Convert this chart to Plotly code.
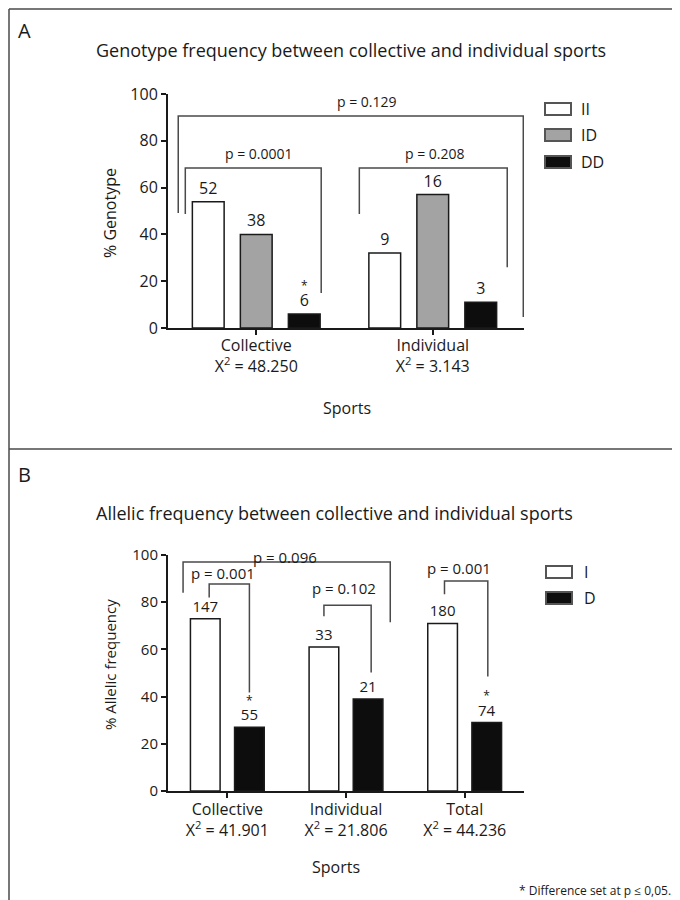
import plotly.graph_objects as go

# ---------------- DATA ----------------
# Panel A: genotype frequency (%), counts shown on bars
groups_A = ["Collective", "Individual"]
chi2_A = ["48.250", "3.143"]
pct_II = [54, 32]
pct_ID = [40, 57]
pct_DD = [6, 11]
n_II = [52, 9]
n_ID = [38, 16]
n_DD = [6, 3]
sig_DD = ["*", ""]

# Panel B: allelic frequency (%), counts shown on bars
groups_B = ["Collective", "Individual", "Total"]
chi2_B = ["41.901", "21.806", "44.236"]
pct_I = [73, 61, 71]
pct_D = [27, 39, 29]
n_I = [147, 33, 180]
n_D = [55, 21, 74]
sig_D = ["*", "", "*"]

yticks = [0, 20, 40, 60, 80, 100]

# significance brackets: (label, x_left, x_right, y_top, y_left_end, y_right_end, label_x, label_y)
brackets_A = [
    ("p = 0.129", -0.442, 1.513, 90.6, 49.1, 4.7, 0.629, 97.0),
    ("p = 0.0001", -0.402, 0.368, 68.4, 48.7, 15.0, 0.017, 74.4),
    ("p = 0.208", 0.584, 1.422, 68.4, 48.7, 26.0, 1.014, 74.4),
]
brackets_B = [
    ("p = 0.096", -0.373, 1.373, 97.0, 84.0, 71.5, 0.49, 99.0),
    ("p = 0.001", -0.153, 0.186, 87.7, 82.0, 41.7, -0.034, 92.4),
    ("p = 0.102", 0.814, 1.212, 78.7, 74.0, 50.2, 0.983, 86.0),
    ("p = 0.001", 1.83, 2.195, 89.0, 83.4, 48.5, 1.95, 94.5),
]

# ---------------- STYLE ----------------
FONT = "Open Sans"
INK = "#1a1a1a"
LINE = "#4a4a4a"
W, H = 680, 900
OFF = 8  # page body margin of the html page


def px(x):
    return (x - OFF) / W


def py(y):
    return 1 - (y - OFF) / H


def bar_text(counts, sig=None, size=16):
    out = []
    for i, c in enumerate(counts):
        star = (sig[i] + "<br>") if (sig and sig[i]) else ""
        out.append(f"{star}<span style='font-size:{size}px'>{c}</span>")
    return out


fig = go.Figure()

# ---- Panel A bars ----
wA = 0.18
shiftA = 0.272
xA = list(range(len(groups_A)))
for vals, counts, fill, shift, sig in [
    (pct_II, n_II, "#ffffff", -shiftA, None),
    (pct_ID, n_ID, "#a3a3a3", 0.0, None),
    (pct_DD, n_DD, "#0d0d0d", shiftA, sig_DD),
]:
    fig.add_trace(go.Bar(
        x=xA, y=vals, width=wA, offset=-wA / 2 + shift,
        marker=dict(color=fill, line=dict(color=INK, width=1.5)),
        text=bar_text(counts, sig, 16), textposition="outside",
        textfont=dict(family=FONT, size=12, color=INK),
        constraintext="none", cliponaxis=False,
        xaxis="x", yaxis="y", showlegend=False, hoverinfo="skip",
    ))

# ---- Panel B bars ----
wB = 0.25
shiftB = 0.186
xB = list(range(len(groups_B)))
for vals, counts, fill, shift, sig in [
    (pct_I, n_I, "#ffffff", -shiftB, None),
    (pct_D, n_D, "#0d0d0d", shiftB, sig_D),
]:
    fig.add_trace(go.Bar(
        x=xB, y=vals, width=wB, offset=-wB / 2 + shift,
        marker=dict(color=fill, line=dict(color=INK, width=1.5)),
        text=bar_text(counts, sig, 15), textposition="outside",
        textfont=dict(family=FONT, size=12, color=INK),
        constraintext="none", cliponaxis=False,
        xaxis="x2", yaxis="y2", showlegend=False, hoverinfo="skip",
    ))

shapes = []
annotations = []

# ---- brackets ----
for brs, xr, yr, fsize in [(brackets_A, "x", "y", 14), (brackets_B, "x2", "y2", 15)]:
    for lab, xl, xrr, yt, yl, yre, lx, ly in brs:
        shapes.append(dict(
            type="path", xref=xr, yref=yr,
            path=f"M {xl},{yl} L {xl},{yt} L {xrr},{yt} L {xrr},{yre}",
            line=dict(color=LINE, width=1.5),
        ))
        annotations.append(dict(
            text=lab, x=lx, y=ly, xref=xr, yref=yr, showarrow=False,
            xanchor="center", yanchor="middle",
            font=dict(family=FONT, size=fsize, color=INK),
        ))

# ---- panel frame ----
frame = [
    (9, 9, 690, 9),
    (9, 9, 9, 910),
    (9, 449, 690, 449),
]
for x0, y0, x1, y1 in frame:
    shapes.append(dict(type="line", xref="paper", yref="paper",
                       x0=px(x0), y0=py(y0), x1=px(x1), y1=py(y1),
                       line=dict(color=LINE, width=1.5)))

# ---- legends ----
legA = [("II", "#ffffff", 109), ("ID", "#a3a3a3", 135), ("DD", "#0d0d0d", 162)]
for lab, fill, yc in legA:
    shapes.append(dict(type="rect", xref="paper", yref="paper",
                       x0=px(545), x1=px(571), y0=py(yc - 6), y1=py(yc + 6),
                       fillcolor=fill, line=dict(color="#555555", width=2)))
    annotations.append(dict(text=lab, x=px(579), y=py(yc), xref="paper", yref="paper",
                            showarrow=False, xanchor="left", yanchor="middle",
                            font=dict(family=FONT, size=16, color=INK)))
legB = [("I", "#ffffff", 572), ("D", "#0d0d0d", 598)]
for lab, fill, yc in legB:
    shapes.append(dict(type="rect", xref="paper", yref="paper",
                       x0=px(546), x1=px(572), y0=py(yc - 6), y1=py(yc + 6),
                       fillcolor=fill, line=dict(color="#555555", width=2)))
    annotations.append(dict(text=lab, x=px(582), y=py(yc), xref="paper", yref="paper",
                            showarrow=False, xanchor="left", yanchor="middle",
                            font=dict(family=FONT, size=16, color=INK)))


def txt(t, x, y, size, xanchor="center", angle=0):
    annotations.append(dict(text=t, x=px(x), y=py(y), xref="paper", yref="paper",
                            showarrow=False, xanchor=xanchor, yanchor="middle",
                            textangle=angle,
                            font=dict(family=FONT, size=size, color=INK)))


txt("A", 16, 30, 20, "left")
txt("Genotype frequency between collective and individual sports", 94, 50, 18, "left")
txt("% Genotype", 110, 213, 16, angle=-90)
txt("Sports", 347, 408, 16)
txt("B", 16, 474, 20, "left")
txt("Allelic frequency between collective and individual sports", 94, 513, 18, "left")
txt("% Allelic frequency", 110, 665, 15, angle=-90)
txt("Sports", 336, 867, 16)
txt("* Difference set at p \u2264 0,05.", 673, 890, 12, "right")

dom_x = [px(168), px(524)]

axis_common = dict(
    showline=True, linecolor=INK, linewidth=2, ticks="outside", ticklen=5,
    tickwidth=2, tickcolor=INK, showgrid=False, zeroline=False, automargin=False,
)

fig.update_layout(
    width=W, height=H, margin=dict(l=0, r=0, t=0, b=0, pad=0, autoexpand=False),
    paper_bgcolor="white", plot_bgcolor="white",
    barmode="overlay", showlegend=False,
    font=dict(family=FONT, color=INK),
    xaxis=dict(domain=dom_x, anchor="y", range=[-0.5, 1.517],
               tickvals=xA, ticklabelstandoff=-3,
               ticktext=[f"{g}<br>X<sup>2</sup> = {c}" for g, c in zip(groups_A, chi2_A)],
               tickfont=dict(family=FONT, size=16, color=INK), **axis_common),
    yaxis=dict(domain=[py(328), py(94)], anchor="x", range=[0, 100],
               tickvals=yticks, tickfont=dict(family=FONT, size=16, color=INK),
               **axis_common),
    xaxis2=dict(domain=dom_x, anchor="y2", range=[-0.5, 2.5],
                tickvals=xB, ticklabelstandoff=-2,
                ticktext=[f"{g}<br>X<sup>2</sup> = {c}" for g, c in zip(groups_B, chi2_B)],
                tickfont=dict(family=FONT, size=16, color=INK), **axis_common),
    yaxis2=dict(domain=[py(791), py(555)], anchor="x2", range=[0, 100],
                tickvals=yticks, tickfont=dict(family=FONT, size=15, color=INK),
                **axis_common),
    shapes=shapes,
    annotations=annotations,
)

fig.write_html("out.html")
